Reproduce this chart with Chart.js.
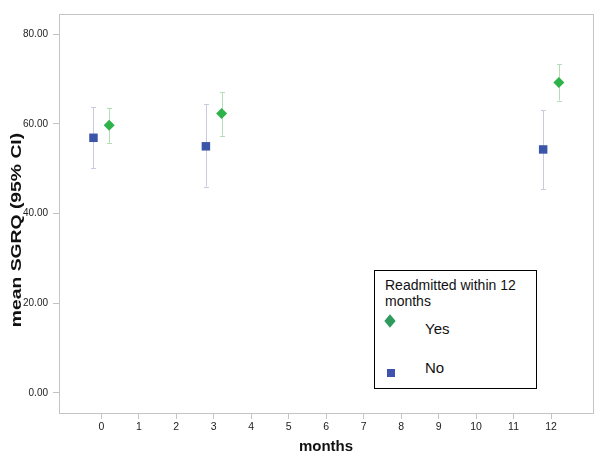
<!DOCTYPE html>
<html><head><meta charset="utf-8">
<script src="https://cdn.jsdelivr.net/npm/chart.js@4"></script>
<style>
html,body{margin:0;padding:0;background:#fff}
#wrap{position:relative;width:600px;height:460px;font-family:"Liberation Sans",Arial,sans-serif}
#legend{position:absolute;left:374px;top:270px;width:161px;height:117px;border:1px solid #000;background:#fff;color:#111}
#legend .t{position:absolute;left:10px;top:6px;font-size:14px;line-height:16px}
#legend .lab{position:absolute;left:50px;font-size:15px;line-height:18px}
#legend .dia{position:absolute;width:8px;height:8px;background:#2f9a5d;transform:scaleY(1.2) rotate(45deg)}
#legend .sq{position:absolute;width:8px;height:8px;background:#3f52b0}
</style>
</head><body>
<div id="wrap"><canvas id="c" width="600" height="460"></canvas>
<div id="legend">
  <div class="t" id="lt"></div>
  <div class="dia" style="left:11px;top:46px"></div><div class="lab" id="l0" style="top:49px"></div>
  <div class="sq" style="left:12px;top:98px"></div><div class="lab" id="l1" style="top:88px"></div>
</div>
</div>
<script>
// ---- data ----
const months = [0, 3, 12];
const xTickValues = [0, 1, 2, 3, 4, 5, 6, 7, 8, 9, 10, 11, 12];
const yTickValues = [0, 20, 40, 60, 80];
const seriesNames = ['Yes', 'No'];
const legendTitle = 'Readmitted within 12 months';
const yesMean = [59.7, 62.3, 69.2];
const yesLow  = [55.8, 57.4, 65.2];
const yesHigh = [63.6, 67.0, 73.3];
const noMean  = [56.9, 55.0, 54.3];
const noLow   = [50.2, 46.0, 45.5];
const noHigh  = [63.7, 64.4, 63.1];
const xTitle = 'months';
const yTitle = 'mean SGRQ (95% CI)';

// group dodge (in month units)
const dodge = {Yes: 0.21, No: -0.21};

document.getElementById('lt').innerHTML = 'Readmitted within 12<br>months';
document.getElementById('l0').textContent = seriesNames[0];
document.getElementById('l1').textContent = seriesNames[1];

const FONT = '"Liberation Sans", Arial, sans-serif';

function pts(mean, low, high, off) {
  return months.map((m, i) => ({x: m + off, y: mean[i], lo: low[i], hi: high[i]}));
}

const errorBars = {
  id: 'errorBars',
  beforeDatasetsDraw(chart) {
    const ctx = chart.ctx, xs = chart.scales.x, ys = chart.scales.y;
    ctx.save();
    chart.data.datasets.forEach(ds => {
      ctx.strokeStyle = ds.errColor;
      ctx.lineWidth = 1;
      ds.data.forEach(p => {
        const x = Math.round(xs.getPixelForValue(p.x)) + 0.5;
        const y1 = ys.getPixelForValue(p.lo), y2 = ys.getPixelForValue(p.hi);
        ctx.beginPath();
        ctx.moveTo(x, y1); ctx.lineTo(x, y2);
        ctx.moveTo(x - 2.5, Math.round(y1) + 0.5); ctx.lineTo(x + 2.5, Math.round(y1) + 0.5);
        ctx.moveTo(x - 2.5, Math.round(y2) + 0.5); ctx.lineTo(x + 2.5, Math.round(y2) + 0.5);
        ctx.stroke();
      });
    });
    ctx.restore();
  }
};
const frame = {
  id: 'frame',
  beforeDatasetsDraw(chart) {
    const a = chart.chartArea, ctx = chart.ctx;
    ctx.save();
    ctx.strokeStyle = '#c4c4c4';
    ctx.lineWidth = 1;
    ctx.strokeRect(Math.round(a.left) + 0.5, Math.round(a.top) + 0.5, Math.round(a.right - a.left), Math.round(a.bottom - a.top));
    ctx.restore();
  }
};
const yAxisTitle = {
  id: 'yAxisTitle',
  afterDraw(chart) {
    const ctx = chart.ctx;
    ctx.save();
    ctx.translate(17, 230);
    ctx.rotate(-Math.PI / 2);
    ctx.scale(1.38, 1);
    ctx.font = 'bold 14px ' + FONT;
    ctx.fillStyle = '#111';
    ctx.textAlign = 'center';
    ctx.textBaseline = 'middle';
    ctx.fillText(yTitle, 0, 0);
    ctx.restore();
  }
};

new Chart(document.getElementById('c'), {
  type: 'scatter',
  data: {
    datasets: [
      {label: seriesNames[0], data: pts(yesMean, yesLow, yesHigh, dodge.Yes), pointStyle: 'rectRot', pointRadius: 5.5,
       backgroundColor: '#2db34a', borderWidth: 0, errColor: '#b5ddb5'},
      {label: seriesNames[1], data: pts(noMean, noLow, noHigh, dodge.No), pointStyle: 'rect', pointRadius: 6,
       backgroundColor: '#3b55a8', borderWidth: 0, errColor: '#c8cadd'}
    ]
  },
  options: {
    responsive: false, animation: false, devicePixelRatio: 1,
    layout: {padding: {top: 14, right: 7, left: 0, bottom: 0}},
    plugins: {legend: {display: false}, tooltip: {enabled: false}},
    scales: {
      x: {
        type: 'linear', min: -1.13, max: 13.12,
        afterBuildTicks: s => { s.ticks = xTickValues.map(v => ({value: v})); },
        afterFit: s => { s.height = 47; },
        border: {display: false},
        grid: {drawOnChartArea: false, drawTicks: true, tickLength: 6, color: '#c4c4c4'},
        ticks: {color: '#222', font: {family: FONT, size: 10.5}, padding: 2, maxRotation: 0,
                callback: v => String(v)},
        title: {display: true, text: xTitle, color: '#111', font: {family: FONT, size: 15, weight: 'bold'}, padding: {top: 2}}
      },
      y: {
        type: 'linear', min: -4.46, max: 84.5,
        afterBuildTicks: s => { s.ticks = yTickValues.map(v => ({value: v})); },
        afterFit: s => { s.width = 59; },
        border: {display: false},
        grid: {drawOnChartArea: false, drawTicks: true, tickLength: 6, color: '#c4c4c4'},
        ticks: {color: '#222', font: {family: FONT, size: 10}, padding: 5,
                callback: v => Number(v).toFixed(2)},
        title: {display: false}
      }
    }
  },
  plugins: [frame, errorBars, yAxisTitle]
});
</script>
</body></html>
